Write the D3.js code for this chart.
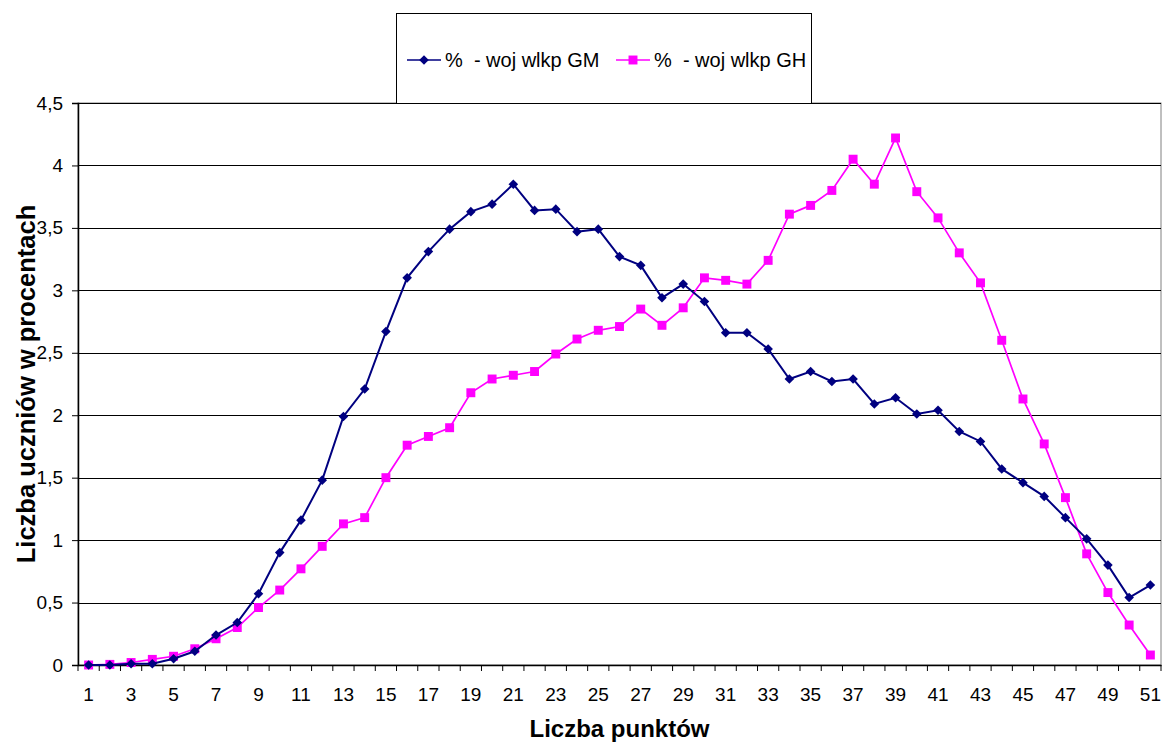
<!DOCTYPE html>
<meta charset="utf-8">
<style>
    body { margin: 0; background: #fff; }
    text { font-family: Arial, "Liberation Sans", sans-serif; fill: #000; }
    .tick text { font-size: 19px; }
    .title { font-size: 24px; font-weight: bold; }
    .title.ytitle { font-size: 25.5px; }
    .legend text { font-size: 20px; }
</style>
<body>
<script src="https://d3js.org/d3.v7.min.js"></script>
<script>
    // punkty 1..51
    var points = d3.range(1, 52);
    var gmLabel = "%  - woj wlkp GM",
        ghLabel = "%  - woj wlkp GH";
    var gmValues = [0, 0, 0.01, 0.01, 0.05, 0.11, 0.24, 0.34, 0.57, 0.90,
        1.16, 1.48, 1.99, 2.21, 2.67, 3.10, 3.31, 3.49, 3.63, 3.69,
        3.85, 3.64, 3.65, 3.47, 3.49, 3.27, 3.20, 2.94, 3.05, 2.91,
        2.66, 2.66, 2.53, 2.29, 2.35, 2.27, 2.29, 2.09, 2.14, 2.01,
        2.04, 1.87, 1.79, 1.57, 1.46, 1.35, 1.18, 1.01, 0.80, 0.54, 0.64];
    var ghValues = [0, 0.005, 0.02, 0.045, 0.07, 0.13, 0.21, 0.30, 0.46, 0.60,
        0.77, 0.95, 1.13, 1.18, 1.50, 1.76, 1.83, 1.90, 2.18, 2.29,
        2.32, 2.35, 2.49, 2.61, 2.68, 2.71, 2.85, 2.72, 2.86, 3.10,
        3.08, 3.05, 3.24, 3.61, 3.68, 3.80, 4.05, 3.85, 4.22, 3.79,
        3.58, 3.30, 3.06, 2.60, 2.13, 1.77, 1.34, 0.89, 0.58, 0.32, 0.08];
    var yTicks = d3.range(0, 4.51, 0.5);

    var W = 1162, H = 743;
    var plot = {left: 78, right: 1161, top: 103, bottom: 665};

    var pl = d3.formatLocale({decimal: ",", thousands: " ", grouping: [3], currency: ["", " zł"]});
    var fmt = pl.format("~g");

    var x = d3.scaleBand().domain(points).range([plot.left, plot.right]).padding(0);
    var y = d3.scaleLinear().domain([0, 4.5]).range([plot.bottom, plot.top]);
    var cx = function(d) { return x(d) + x.bandwidth() / 2; };

    var svg = d3.select("body").append("svg")
        .attr("width", W)
        .attr("height", H);

    // plot area frame
    svg.append("rect")
        .attr("x", plot.left).attr("y", plot.top)
        .attr("width", plot.right - plot.left).attr("height", plot.bottom - plot.top)
        .attr("fill", "#fff").attr("stroke", "#808080").attr("stroke-width", 1);

    // gridlines
    svg.append("g").selectAll("line")
        .data(yTicks.filter(function(d) { return d > 0; }))
        .enter().append("line")
        .attr("x1", plot.left).attr("x2", plot.right)
        .attr("y1", function(d) { return Math.round(y(d)) + 0.5; })
        .attr("y2", function(d) { return Math.round(y(d)) + 0.5; })
        .attr("stroke", "#000").attr("stroke-width", 1);

    // y axis
    var yAxis = d3.axisLeft(y).tickValues(yTicks).tickFormat(fmt).tickSize(6).tickPadding(9);
    svg.append("g")
        .attr("transform", "translate(" + plot.left + ",0)")
        .call(yAxis)
        .call(function(g) {
            g.select(".domain").attr("stroke", "#000").attr("stroke-width", 1.5);
            g.selectAll(".tick line").attr("stroke", "#000");
            g.selectAll(".tick text").attr("font-size", null).attr("font-family", null);
        });

    // x axis: labels on odd points, ticks on category boundaries
    var xAxis = d3.axisBottom(x)
        .tickValues(points.filter(function(d, i) { return i % 2 === 0; }))
        .tickSize(0).tickPadding(23);
    svg.append("g")
        .attr("transform", "translate(0," + plot.bottom + ")")
        .call(xAxis)
        .call(function(g) {
            g.select(".domain").attr("stroke", "#000").attr("stroke-width", 1.5);
            g.selectAll(".tick text").attr("font-size", null).attr("font-family", null);
        });
    svg.append("g").selectAll("line")
        .data(points.concat([null]))
        .enter().append("line")
        .attr("x1", function(d) { return d === null ? plot.right : x(d); })
        .attr("x2", function(d) { return d === null ? plot.right : x(d); })
        .attr("y1", plot.bottom).attr("y2", plot.bottom + 6)
        .attr("stroke", "#000").attr("stroke-width", 1);

    // series
    function drawSeries(values, color, width, symbolType, size, rotate) {
        var data = points.map(function(p, i) { return {p: p, v: values[i]}; });
        var line = d3.line()
            .x(function(d) { return cx(d.p); })
            .y(function(d) { return y(d.v); });
        svg.append("path")
            .datum(data)
            .attr("d", line)
            .attr("fill", "none")
            .attr("stroke", color)
            .attr("stroke-width", width);
        svg.append("g").selectAll("path")
            .data(data)
            .enter().append("path")
            .attr("d", d3.symbol().type(symbolType).size(size))
            .attr("transform", function(d) {
                return "translate(" + cx(d.p) + "," + y(d.v) + ") rotate(" + rotate + ")";
            })
            .attr("fill", color);
    }
    drawSeries(ghValues, "#FF00FF", 1.7, d3.symbolSquare, 80, 0);
    drawSeries(gmValues, "#000080", 2, d3.symbolSquare, 46, 45);

    // axis titles
    svg.append("text")
        .attr("class", "title")
        .attr("x", (plot.left + plot.right) / 2)
        .attr("y", 737)
        .attr("text-anchor", "middle")
        .text("Liczba punktów");
    svg.append("text")
        .attr("class", "title ytitle")
        .attr("transform", "translate(35," + ((plot.top + plot.bottom) / 2) + ") rotate(-90)")
        .attr("text-anchor", "middle")
        .text("Liczba uczniów w procentach");

    // legend
    var legend = svg.append("g").attr("class", "legend");
    legend.append("rect")
        .attr("x", 396.5).attr("y", 13.5)
        .attr("width", 415).attr("height", 90)
        .attr("fill", "#fff").attr("stroke", "#000").attr("stroke-width", 1);
    var items = [
        {label: gmLabel, color: "#000080", sym: d3.symbolSquare, size: 46, rot: 45, x0: 407},
        {label: ghLabel, color: "#FF00FF", sym: d3.symbolSquare, size: 80, rot: 0, x0: 616}
    ];
    var li = legend.selectAll("g.item").data(items).enter().append("g")
        .attr("transform", function(d) { return "translate(" + d.x0 + ",60)"; });
    li.append("line")
        .attr("x1", 0).attr("x2", 34).attr("y1", 0).attr("y2", 0)
        .attr("stroke", function(d) { return d.color; }).attr("stroke-width", 1.7);
    li.append("path")
        .attr("d", function(d) { return d3.symbol().type(d.sym).size(d.size)(); })
        .attr("transform", function(d) { return "translate(17,0) rotate(" + d.rot + ")"; })
        .attr("fill", function(d) { return d.color; });
    li.append("text")
        .attr("x", 38).attr("y", 7)
        .style("white-space", "pre")
        .text(function(d) { return d.label; });
</script>
</body>
